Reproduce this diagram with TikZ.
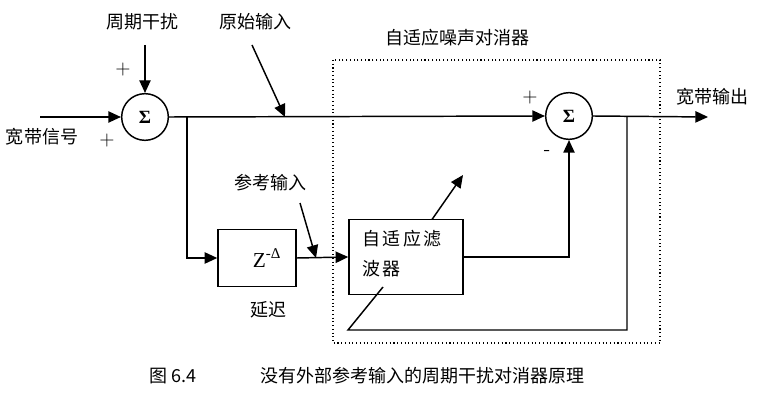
\documentclass[tikz,border=0pt]{standalone}
\usepackage{fontspec}
\setmainfont{Liberation Serif}
\newfontfamily\cjk{Noto Sans CJK SC}
\newfontfamily\cjkspaced[LetterSpace=12]{Noto Sans CJK SC}
\usetikzlibrary{arrows.meta}
\begin{document}
\begin{tikzpicture}[x=0.75pt,y=-0.75pt,
  line width=1.1pt,
  >={Triangle[length=9.5pt,width=8.5pt]},
  sumnode/.style={draw,circle,minimum size=35pt,inner sep=0pt,font=\fontsize{14}{16}\selectfont},
  blockbox/.style={draw,rectangle,inner sep=0pt},
  lbl/.style={font=\cjk\fontsize{13.5}{16}\selectfont,inner sep=0pt},
  sign/.style={font=\sffamily\fontsize{15}{16}\selectfont,inner sep=0pt}]
\useasboundingbox (0,0) rectangle (762,416);
% dotted frame
\draw[dotted,line width=0.8pt] (333,60) rectangle (660,343);
% nodes
\node[sumnode] (s1) at (145,117) {\textbf{Σ}};
\node[sumnode] (s2) at (569,116) {\textbf{Σ}};
\node[blockbox,minimum width=58.5pt,minimum height=42.75pt] (delay) at (257,258) {};
\node[inner sep=0pt,font=\fontsize{16}{18}\selectfont] (zd) at (267,258) {Z\textsuperscript{-Δ}};
\node[blockbox,minimum width=85.5pt,minimum height=56.25pt] (filt) at (406,257) {};
\node[font=\cjkspaced\fontsize{13.5}{22}\selectfont,inner sep=0pt,align=left,anchor=north west] (ft) at (362,230) {自适应滤\\波器};
% coordinates
\coordinate (inL) at (40,117);
\coordinate (pdT) at (145,45);
\coordinate (br1) at (187,117);
\coordinate (br2) at (627,117);
\coordinate (outR) at (708,117);
\coordinate (fbC) at (627,330);
\coordinate (fbL) at (348,330);
\coordinate (fbE) at (383,287);
\coordinate (oiS) at (252,45);
\coordinate (oiE) at (285,117);
\coordinate (riS) at (300,203);
\coordinate (riE) at (316,258);
\coordinate (adS) at (432,219.5);
\coordinate (adE) at (463,175);
% connectors
\draw[->] (inL) -- (s1.west);
\draw[->] (pdT) -- (s1.north);
\draw[->] (s1.east) -- (s2.west);
\draw[->] (br1) |- (delay.west);
\draw[->] (delay.east) -- (filt.west);
\draw[->] (filt.east) -| (s2.south);
\draw[->] (s2.east) -- (outR);
\draw (br2) -- (fbC) -- (fbL) -- (fbE);
\draw[->] (oiS) -- (oiE);
\draw[->] (riS) -- (riE);
\draw[->] (adS) -- (adE);
% labels
\node[lbl] (l1) at (142,22) {周期干扰};
\node[lbl] (l2) at (255,22) {原始输入};
\node[lbl] (l3) at (457,38) {自适应噪声对消器};
\node[lbl] (l4) at (42,137) {宽带信号};
\node[lbl] (l5) at (712,97) {宽带输出};
\node[lbl] (l6) at (270,183) {参考输入};
\node[lbl] (l7) at (268,310) {延迟};
\node[sign] (p1) at (123,70) {+};
\node[sign] (p2) at (107,141) {+};
\node[sign] (p3) at (530,98) {+};
\node[sign] (m1) at (547,153) {-};
\node[lbl] (c1) at (173,376) {图 6.4};
\node[lbl] (c2) at (422,376) {没有外部参考输入的周期干扰对消器原理};
\end{tikzpicture}
\end{document}
